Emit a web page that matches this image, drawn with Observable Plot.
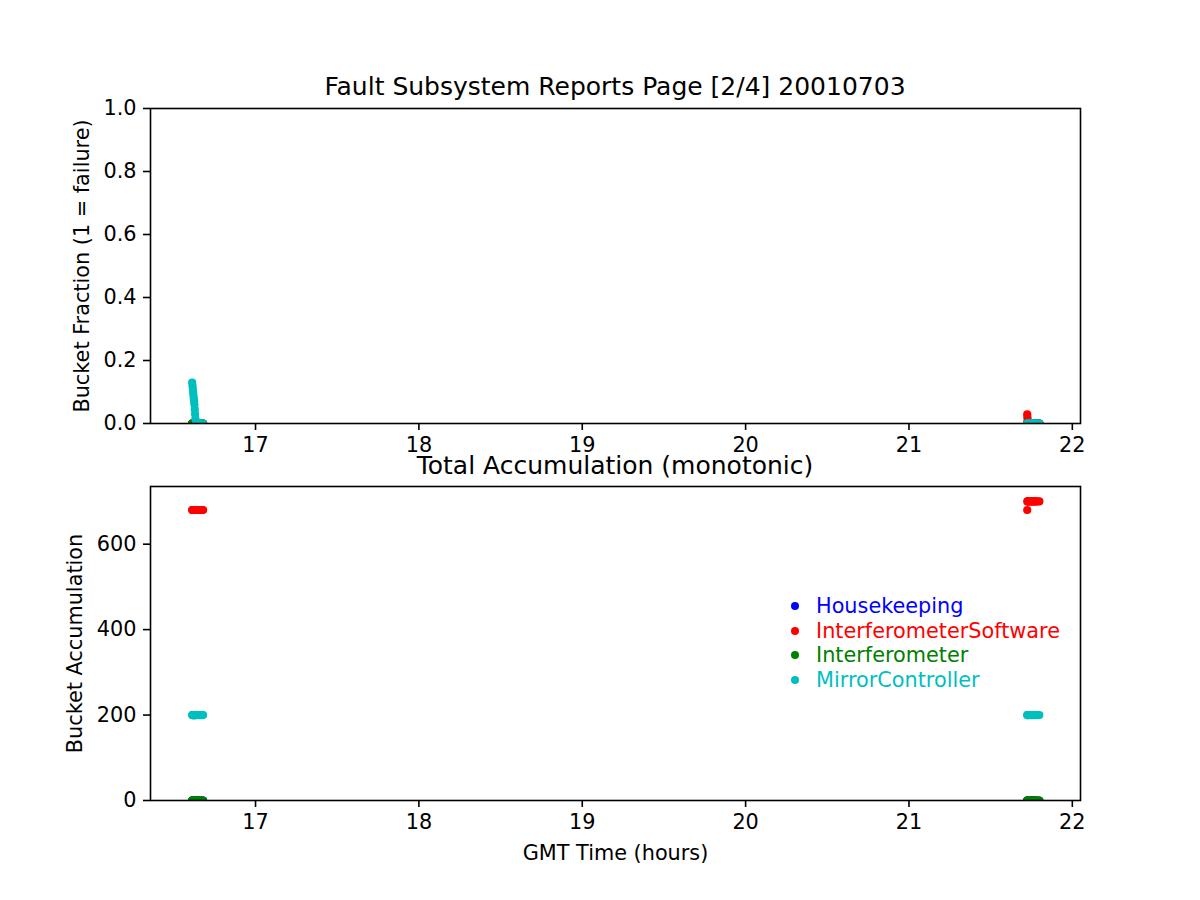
<!DOCTYPE html>
<html><head><meta charset="utf-8">
<script src="https://cdn.jsdelivr.net/npm/d3@7"></script>
<script src="https://cdn.jsdelivr.net/npm/@observablehq/plot@0.6"></script>
<style>
body{margin:0;background:#fff;}
#page{position:relative;width:1200px;height:900px;font-family:"DejaVu Sans",sans-serif;background:#fff;overflow:hidden;}
#page svg{overflow:visible;position:absolute;left:0;}
.title{position:absolute;transform:translate(-50%,-50%);white-space:nowrap;font-size:25px;color:#000;line-height:1.2;}
.leg{position:absolute;white-space:nowrap;font-size:20.8px;line-height:1;transform:translateY(-50%);}
.legdot{position:absolute;width:8px;height:8px;border-radius:50%;transform:translate(-50%,-50%);}
</style></head>
<body><div id="page"></div>
<script>
// ---- data ----
const seriesNames = ["Housekeeping","InterferometerSoftware","Interferometer","MirrorController"];
const seriesColors = ["#0000ff","#ff0000","#008000","#00bfbf"];
const pageTitle = "Fault Subsystem Reports Page [2/4] 20010703";
const lowerTitle = "Total Accumulation (monotonic)";

// GMT hours, first pass (~16.6 h) and second pass (~21.7 h)
const timesA = [16.612,16.614,16.616,16.618,16.620,16.622,16.624,16.626,16.628,16.630,16.632,16.636,16.642,16.648,16.654,16.660,16.666,16.672,16.679];
const timesB = [21.724,21.725,21.726,21.730,21.736,21.742,21.748,21.754,21.760,21.766,21.772,21.778,21.786,21.798];

// bucket fraction (top panel)
const fracHousekeepingA = [0,0,0,0,0,0,0,0,0,0,0,0,0,0,0,0,0,0,0];
const fracSoftwareA     = [0,0,0,0,0,0,0,0,0,0,0,0,0,0,0,0,0,0,0];
const fracInterfA       = [0,0,0,0,0,0,0,0,0,0,0,0,0,0,0,0,0,0,0];
const fracMirrorA       = [0.13,0.12,0.11,0.10,0.09,0.08,0.07,0.06,0.045,0.03,0.015,0,0,0,0,0,0,0,0];
const fracHousekeepingB = [0,0,0,0,0,0,0,0,0,0,0,0,0,0];
const fracSoftwareB     = [0.029,0.02,0.01,0,0,0,0,0,0,0,0,0,0,0];
const fracInterfB       = [0,0,0,0,0,0,0,0,0,0,0,0,0,0];
const fracMirrorB       = [0,0,0,0,0,0,0,0,0,0,0,0,0,0];

// bucket accumulation (bottom panel)
const accHousekeepingA = [0,0,0,0,0,0,0,0,0,0,0,0,0,0,0,0,0,0,0];
const accSoftwareA     = [680,680,680,680,680,680,680,680,680,680,680,680,680,680,680,680,680,680,680];
const accInterfA       = [0,0,0,0,0,0,0,0,0,0,0,0,0,0,0,0,0,0,0];
const accMirrorA       = [200,200,200,200,200,200,200,200,200,200,200,200,200,200,200,200,200,200,200];
const accHousekeepingB = [0,0,0,0,0,0,0,0,0,0,0,0,0,0];
const accSoftwareB     = [680,700,700,700,700,700,700,700,700,700,700,700,700,700];
const accInterfB       = [0,0,0,0,0,0,0,0,0,0,0,0,0,0];
const accMirrorB       = [200,200,200,200,200,200,200,200,200,200,200,200,200,200];

const xTicks = [17,18,19,20,21,22];
const fracTicks = [0,0.2,0.4,0.6,0.8,1.0];
const accTicks = [0,200,400,600];

// ---- build tables ----
function build(listsA, listsB) {
  const out = [];
  seriesNames.forEach((s, i) => {
    timesA.forEach((t, j) => out.push({t, v: listsA[i][j], s}));
    timesB.forEach((t, j) => out.push({t, v: listsB[i][j], s}));
  });
  return out;
}
const fracData = build([fracHousekeepingA,fracSoftwareA,fracInterfA,fracMirrorA],[fracHousekeepingB,fracSoftwareB,fracInterfB,fracMirrorB]);
const accData = build([accHousekeepingA,accSoftwareA,accInterfA,accMirrorA],[accHousekeepingB,accSoftwareB,accInterfB,accMirrorB]);

const page = document.getElementById("page");
const common = {
  width: 1200, marginLeft: 150, marginRight: 120,
  style: {fontFamily: "DejaVu Sans", fontSize: "20.8px", background: "transparent", overflow: "visible", color: "black"},
  color: {domain: seriesNames, range: seriesColors},
  x: {domain: [16.357, 22.05]}
};

const topPlot = Plot.plot({
  ...common, height: 455, marginTop: 108, marginBottom: 32,
  y: {domain: [0, 1]},
  marks: [
    Plot.dot(fracData, {x: "t", y: "v", fill: "s", r: 4.1, clip: true}),
    Plot.axisX({ticks: xTicks, tickFormat: d3.format("d"), tickSize: 7, tickPadding: 7, strokeWidth: 1.6, label: null}),
    Plot.axisY({ticks: fracTicks, tickFormat: d3.format(".1f"), tickSize: 7, tickPadding: 7, strokeWidth: 1.6,
      label: "Bucket Fraction (1 = failure)", labelAnchor: "center", labelArrow: "none", labelOffset: 76}),
    Plot.frame({stroke: "black", strokeWidth: 1.6})
  ]
});
topPlot.style.top = "0px";
page.appendChild(topPlot);

const botPlot = Plot.plot({
  ...common, height: 445, marginTop: 31, marginBottom: 100,
  y: {domain: [0, 735]},
  marks: [
    Plot.dot(accData, {x: "t", y: "v", fill: "s", r: 4.1, clip: true}),
    Plot.axisX({ticks: xTicks, tickFormat: d3.format("d"), tickSize: 7, tickPadding: 7, strokeWidth: 1.6,
      label: "GMT Time (hours)", labelAnchor: "center", labelArrow: "none", labelOffset: 59}),
    Plot.axisY({ticks: accTicks, tickFormat: d3.format("d"), tickSize: 7, tickPadding: 7, strokeWidth: 1.6,
      label: "Bucket Accumulation", labelAnchor: "center", labelArrow: "none", labelOffset: 83}),
    Plot.frame({stroke: "black", strokeWidth: 1.6})
  ]
});
botPlot.style.top = "455px";
page.appendChild(botPlot);

function addText(cls, txt, x, y, color) {
  const d = document.createElement("div");
  d.className = cls; d.textContent = txt;
  d.style.left = x + "px"; d.style.top = y + "px";
  if (color) d.style.color = color;
  page.appendChild(d);
  return d;
}
addText("title", pageTitle, 615, 87);
addText("title", lowerTitle, 615, 466);

seriesNames.forEach((s, i) => {
  const y = 606 + i * 24.5;
  const dot = document.createElement("div");
  dot.className = "legdot";
  dot.style.left = "795px"; dot.style.top = y + "px"; dot.style.background = seriesColors[i];
  page.appendChild(dot);
  addText("leg", s, 816, y, seriesColors[i]);
});
</script>
</body></html>
